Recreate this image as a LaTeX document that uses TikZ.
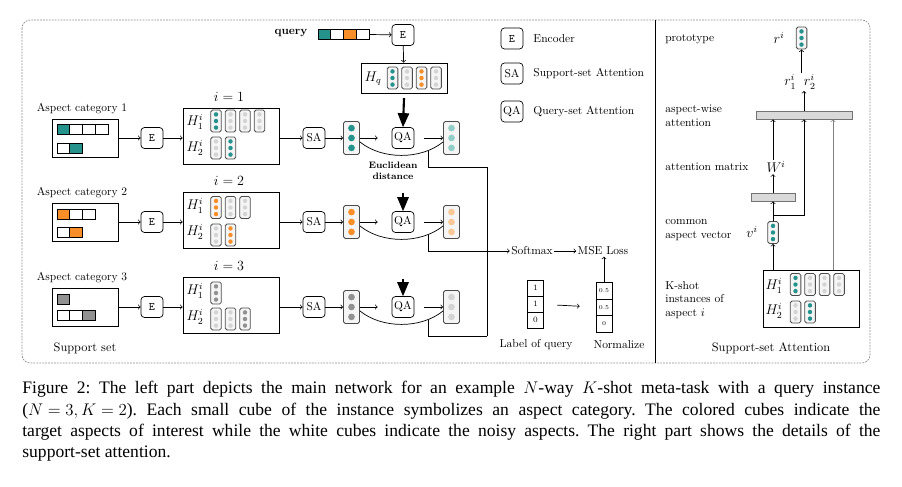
\documentclass[tikz,border=0pt]{standalone}
\usepackage{fontspec}
\newfontfamily\capfont{Liberation Serif}
\usetikzlibrary{arrows,positioning}

\definecolor{tealc}{RGB}{38,146,140}
\definecolor{orangec}{RGB}{247,142,39}
\definecolor{dgrayc}{RGB}{145,145,145}
\definecolor{lgrayc}{RGB}{212,212,212}
\definecolor{ltealc}{RGB}{145,206,200}
\definecolor{lorangec}{RGB}{250,200,150}

\tikzset{
  box/.style={draw, rounded corners=3pt, minimum width=0.66cm, minimum height=0.63cm, inner sep=0pt},
  frame/.style={draw, inner sep=0pt},
  cell/.style={draw=black!70, fill=gray!8, rounded corners=1.5pt, inner sep=0pt, line width=0.7pt},
  numcell/.style={draw, inner sep=0pt, minimum width=0.5cm, minimum height=0.48cm},
  attbar/.style={draw=black!55, fill=gray!30, minimum height=0.24cm, inner sep=0pt},
  bigarr/.style={-triangle 45, line width=1.8pt},
  lbl/.style={anchor=west, align=left, inner sep=0pt},
  mlab/.style={font=\fontsize{11.5}{13}\selectfont, inner sep=1pt},
}

% vector cell: name, x, y, dot colour, size
\newcommand{\vcell}[5]{%
  \node[cell, minimum width=#5*0.32cm, minimum height=#5*0.66cm] (#1) at (#2,#3) {};
  \foreach \d in {-1,0,1}
    \fill[#4] (#2,#3+\d*#5*6.6) circle (#5*1.9pt);
}
% aspect bar: x0, y, cells, coloured cell, colour
\newcommand{\aspbar}[5]{%
  \foreach \d in {1,...,#3}
    \draw (#1+\d*12.8-12.8,#2-5) rectangle ++(12.8,10);
  \fill[#5] (#1+#4*12.8-12.8,#2-5) rectangle ++(12.8,10);
  \draw (#1+#4*12.8-12.8,#2-5) rectangle ++(12.8,10);
}

\begin{document}
\begin{tikzpicture}[x=0.03cm, y=-0.03cm, line width=0.6pt, font=\fontsize{9.8}{11.5}\selectfont]
\useasboundingbox (0,0) rectangle (902,487);

% frame
\draw[black!45, dash pattern=on 1.5pt off 1pt, rounded corners=7pt] (22,20) rectangle (870,363);
\draw (655,20) -- (655,363);

% legend
\node[box] (legE) at (512,38.5) {\texttt{E}};
\node[box] (legSA) at (512,73.5) {SA};
\node[box] (legQA) at (512,111.5) {QA};
\node[right=5pt of legE] (legEt) {Encoder};
\node[right=5pt of legSA] (legSAt) {Support-set Attention};
\node[right=5pt of legQA] (legQAt) {Query-set Attention};

% query
\node[font=\fontsize{9.8}{11.5}\selectfont\bfseries] (query) at (291,33) {query};
\aspbar{318}{34.5}{4}{1}{tealc}
\aspbar{318}{34.5}{4}{3}{orangec}
\coordinate (qbar) at (369,34.5);
\node[box] (qenc) at (403,35) {\texttt{E}};
\node[frame, minimum width=2.58cm, minimum height=0.9cm] (hq) at (404,78) {};
\node[mlab] (hqlab) at (373,79) {\large$H_q$};
\foreach \k/\c in {1/tealc,2/lgrayc,3/orangec,4/lgrayc} {\vcell{hq\k}{392.5+14.5*\k-14.5}{78}{\c}{1}}
\draw[->] (qbar) -- (qenc);
\draw[->] (qenc) -- (hq);

% support set rows
\foreach \r/\y/\c/\lc in {1/138/tealc/ltealc, 2/222/orangec/lorangec, 3/307/dgrayc/lgrayc} {
  \node (cat\r) at (82,\y-29) {Aspect category \r};
  \node[frame, minimum width=1.98cm, minimum height=1.14cm] (asp\r) at (85,\y) {};
  \node[box] (enc\r) at (152,\y) {\texttt{E}};
  \node[frame, minimum width=2.88cm, minimum height=1.68cm] (hb\r) at (231,\y-2) {};
  \node[mlab] (ilab\r) at (229,\y-41) {$i=\r$};
  \node[mlab] (hla\r) at (195,\y-16) {$H_1^i$};
  \node[mlab] (hlb\r) at (195,\y+10) {$H_2^i$};
  \node[box] (sa\r) at (314,\y) {SA};
  \vcell{sv\r}{351.5}{\y}{\c}{1.5}
  \node[box] (qa\r) at (403,\y) {QA};
  \vcell{ov\r}{451.5}{\y}{\lc}{1.5}
  \draw[->] (asp\r) -- (enc\r);
  \draw[->] (enc\r) -- (enc\r -| hb\r.west);
  \draw[->] (hb\r.east |- sa\r) -- (sa\r);
  \draw[->] (sa\r) -- (sv\r);
  \draw[->, shorten >=0.42cm] (sv\r) -- (qa\r);
  \draw[->, shorten <=0.3cm] (qa\r) -- (ov\r);
  \draw (sv\r.-25) .. controls +(22,18) and +(-22,18) .. (ov\r.205) coordinate[pos=0.8] (cv\r);
  \coordinate (jn\r) at (487,\y+29);
  \draw (cv\r) |- (jn\r);
}
\draw (jn1) -- (jn3);

\aspbar{57}{129}{4}{1}{tealc}
\aspbar{57}{148}{2}{2}{tealc}
\aspbar{57}{214}{3}{1}{orangec}
\aspbar{57}{232}{2}{2}{orangec}
\aspbar{57}{299}{1}{1}{dgrayc}
\aspbar{57}{315}{3}{3}{dgrayc}

\foreach \k/\c in {1/tealc,2/lgrayc,3/lgrayc,4/lgrayc} {\vcell{h1a\k}{216+14.5*\k-14.5}{121}{\c}{1}}
\foreach \k/\c in {1/lgrayc,2/tealc} {\vcell{h1b\k}{216+14.5*\k-14.5}{148}{\c}{1}}
\foreach \k/\c in {1/orangec,2/lgrayc,3/lgrayc} {\vcell{h2a\k}{216+14.5*\k-14.5}{207.5}{\c}{1}}
\foreach \k/\c in {1/lgrayc,2/orangec} {\vcell{h2b\k}{216+14.5*\k-14.5}{235}{\c}{1}}
\foreach \k/\c in {1/dgrayc} {\vcell{h3a\k}{216+14.5*\k-14.5}{293}{\c}{1}}
\foreach \k/\c in {1/lgrayc,2/lgrayc,3/dgrayc} {\vcell{h3b\k}{216+14.5*\k-14.5}{319}{\c}{1}}

% query attention inputs
\coordinate (tk2) at (403,193);
\coordinate (tk3) at (403,279);
\draw[bigarr] ([yshift=-4pt]hq.south) -- (qa1.north);
\draw[bigarr] (tk2) -- (qa2.north);
\draw[bigarr] (tk3) -- (qa3.north);
\node[font=\fontsize{8}{9.5}\selectfont\bfseries, align=center] (eucl) at (393,171) {Euclidean\\distance};

\node (lstitle) at (85,348) {\fontsize{10.5}{12}\selectfont Support set};

% loss
\node[inner sep=1pt] (soft) at (532,251) {Softmax};
\node[inner sep=1pt] (mse) at (603,251) {MSE Loss};
\draw[->] (jn2) -- (soft);
\draw[->] (soft) -- (mse);
\foreach \k/\v/\yy in {1/1/288, 2/1/304, 3/0/320}
  \node[numcell, font=\scriptsize] (lab\k) at (535.5,\yy) {\v};
\foreach \k/\v/\yy in {1/0.5/291, 2/0.5/307.5, 3/0/324}
  \node[numcell, minimum width=0.48cm, minimum height=0.495cm, font=\fontsize{5}{6}\selectfont] (nrm\k) at (604,\yy) {\v};
\draw[->, shorten <=0.39cm, shorten >=0.48cm] (lab2) -- (nrm2);
\draw[->] (nrm1.north) -- (nrm1.north |- mse.south);
\node (labq) at (536,345) {Label of query};
\node (normz) at (619,345) {Normalize};

% support-set attention
\node[lbl] (proto) at (665,39) {prototype};
\node[mlab] (rlab) at (779,38) {$r^i$};
\vcell{rv}{801.5}{38}{tealc}{1}
\node[mlab] (rpair) at (800,82) {$r_1^i\;\;r_2^i$};
\node[attbar, minimum width=2.88cm] (abar) at (804,115) {};
\node[lbl] (awlab) at (665,116) {aspect-wise\\attention};
\node[mlab] (wi) at (776,167) {$W^i$};
\node[lbl] (amlab) at (665,167) {attention matrix};
\node[attbar, minimum width=1.32cm] (sbar) at (773,197) {};
\vcell{vc}{773}{232.5}{tealc}{1}
\node[mlab] (vlab) at (752,232) {$v^i$};
\node[lbl] (cvlab) at (665,230) {common\\aspect vector};
\node[frame, minimum width=2.88cm, minimum height=1.71cm] (hr) at (811,298.5) {};
\node[mlab] (hra) at (774,286) {$H_1^i$};
\node[mlab] (hrb) at (774,311) {$H_2^i$};
\foreach \k/\c in {1/tealc,2/lgrayc,3/lgrayc,4/lgrayc} {\vcell{hra\k}{795.5+14.5*\k-14.5}{284.5}{\c}{1}}
\foreach \k/\c in {1/lgrayc,2/tealc} {\vcell{hrb\k}{795.5+14.5*\k-14.5}{312}{\c}{1}}
\node[lbl] (kslab) at (665,300) {K-shot\\instances of\\aspect $i$};
\node (sstitle) at (771,348) {\fontsize{10.5}{12}\selectfont Support-set Attention};

\coordinate (brk) at (773,215);
\coordinate (gx) at (833,0);
\draw[->] (rpair.north -| rv) -- (rv.south);
\draw[->] (abar.north) -- (abar.north |- rpair.south);
\draw[->] (hr.north -| vc) -- (vc.south);
\draw[->] (vc.north) -- (sbar.south);
\draw[->] (sbar.north) -- (wi.south -| vc);
\draw[->] (wi.north -| vc) -- (abar.south -| vc);
\draw[->] (brk) -| (abar.south);
\draw[->, gray] (hr.north -| gx) -- (abar.south -| gx);

% caption
\node[anchor=north west, inner sep=0pt, text width=25.74cm, align=justify, font=\capfont\fontsize{15}{18.2}\selectfont\frenchspacing] (cap) at (22,381)
  {\thickmuskip=5mu\relax\medmuskip=4mu\relax
   Figure 2: The left part depicts the main network for an example $N$-way $K$-shot meta-task with a query instance\linebreak
   ($N=3, K=2$). Each small cube of the instance symbolizes an aspect category. The colored cubes indicate the\linebreak
   target aspects of interest while the white cubes indicate the noisy aspects. The right part shows the details of the\linebreak
   support-set attention.};
\end{tikzpicture}
\end{document}
